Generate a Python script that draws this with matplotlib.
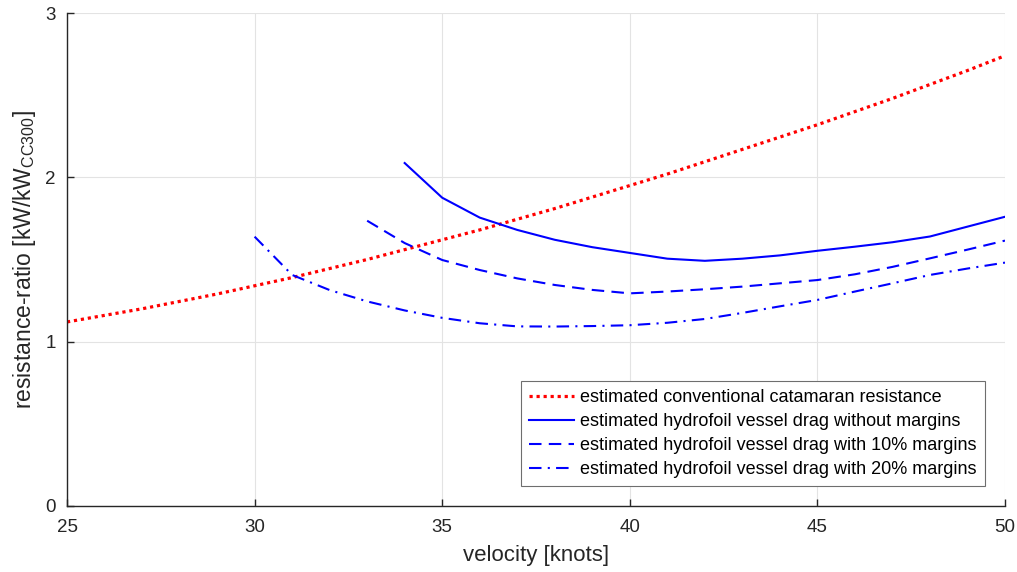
import matplotlib
matplotlib.use("Agg")
import matplotlib.pyplot as plt

plt.rcParams['font.family'] = ['Liberation Sans', 'DejaVu Sans']
plt.rcParams['mathtext.fontset'] = 'custom'
plt.rcParams['mathtext.rm'] = 'Liberation Sans'

v_cat = [25, 26, 27, 28, 29, 30, 31, 32, 33, 34, 35, 36, 37, 38, 39, 40,
         41, 42, 43, 44, 45, 46, 47, 48, 49, 50]
r_cat = [1.12, 1.16, 1.20, 1.245, 1.29, 1.34, 1.39, 1.445, 1.50, 1.56, 1.62,
         1.68, 1.745, 1.81, 1.88, 1.95, 2.02, 2.095, 2.17, 2.245, 2.32, 2.40,
         2.48, 2.565, 2.65, 2.74]

v_h0 = [34, 35, 36, 37, 38, 39, 40, 41, 42, 43, 44, 45, 46, 47, 48, 49, 50]
r_h0 = [2.087, 1.876, 1.755, 1.68, 1.62, 1.575, 1.54, 1.505, 1.492, 1.505,
        1.525, 1.553, 1.578, 1.605, 1.64, 1.70, 1.76]

v_h10 = [33, 34, 35, 36, 37, 38, 39, 40, 41, 42, 43, 44, 45, 46, 47, 48, 49, 50]
r_h10 = [1.736, 1.60, 1.497, 1.436, 1.385, 1.345, 1.315, 1.294, 1.305, 1.319,
         1.335, 1.355, 1.375, 1.41, 1.455, 1.507, 1.56, 1.615]

v_h20 = [30, 31, 32, 33, 34, 35, 36, 37, 38, 39, 40, 41, 42, 43, 44, 45, 46,
         47, 48, 49, 50]
r_h20 = [1.639, 1.406, 1.314, 1.245, 1.19, 1.145, 1.112, 1.093, 1.092, 1.095,
         1.10, 1.115, 1.138, 1.175, 1.215, 1.254, 1.305, 1.355, 1.406, 1.445,
         1.481]

labels = ["estimated conventional catamaran resistance",
          "estimated hydrofoil vessel drag without margins",
          "estimated hydrofoil vessel drag with 10% margins",
          "estimated hydrofoil vessel drag with 20% margins"]

fig = plt.figure(figsize=(10.17, 5.72), dpi=100)
ax = fig.add_axes([67/1017, 1-506/572, (1005-67)/1017, (506-13)/572])

ax.plot(v_cat, r_cat, color=(1, 0, 0), lw=2.3, linestyle=(0, (1, 1.2)), label=labels[0])
ax.plot(v_h0, r_h0, color=(0, 0, 1), lw=1.5, linestyle='-', label=labels[1])
ax.plot(v_h10, r_h10, color=(0, 0, 1), lw=1.5, linestyle=(0, (6, 3.5)), label=labels[2])
ax.plot(v_h20, r_h20, color=(0, 0, 1), lw=1.5, linestyle=(0, (6, 3, 1, 3)), label=labels[3])

ax.set_xlim(25, 50)
ax.set_ylim(0, 3)
ax.set_xticks([25, 30, 35, 40, 45, 50])
ax.set_yticks([0, 1, 2, 3])
ax.grid(True, color='#e3e3e3', lw=0.8)
ax.set_axisbelow(True)
for s in ['top', 'right']:
    ax.spines[s].set_visible(False)
for s in ['left', 'bottom']:
    ax.spines[s].set_color('#262626')
    ax.spines[s].set_linewidth(1.0)
ax.tick_params(direction='in', length=5, width=1.0, colors='#262626',
               labelsize=13.5, labelcolor='#262626')
ax.tick_params(axis='x', pad=9)
ax.tick_params(axis='y', pad=8)

ax.set_xlabel("velocity [knots]", fontsize=16, color='#262626', labelpad=7)
ax.set_ylabel(r"resistance-ratio [kW/kW$_{\mathrm{CC300}}$]", fontsize=16.5,
              color='#262626', labelpad=5)

leg = ax.legend(loc='lower right', bbox_to_anchor=(0.9787, 0.0406), fontsize=13,
                frameon=True, fancybox=False, edgecolor='#6e6e6e',
                handlelength=2.5, handletextpad=0.35, borderpad=0.45,
                labelspacing=0.38, borderaxespad=0.0)
leg.get_frame().set_linewidth(0.8)
leg.get_frame().set_alpha(1)

fig.savefig("out.png", dpi=100)
